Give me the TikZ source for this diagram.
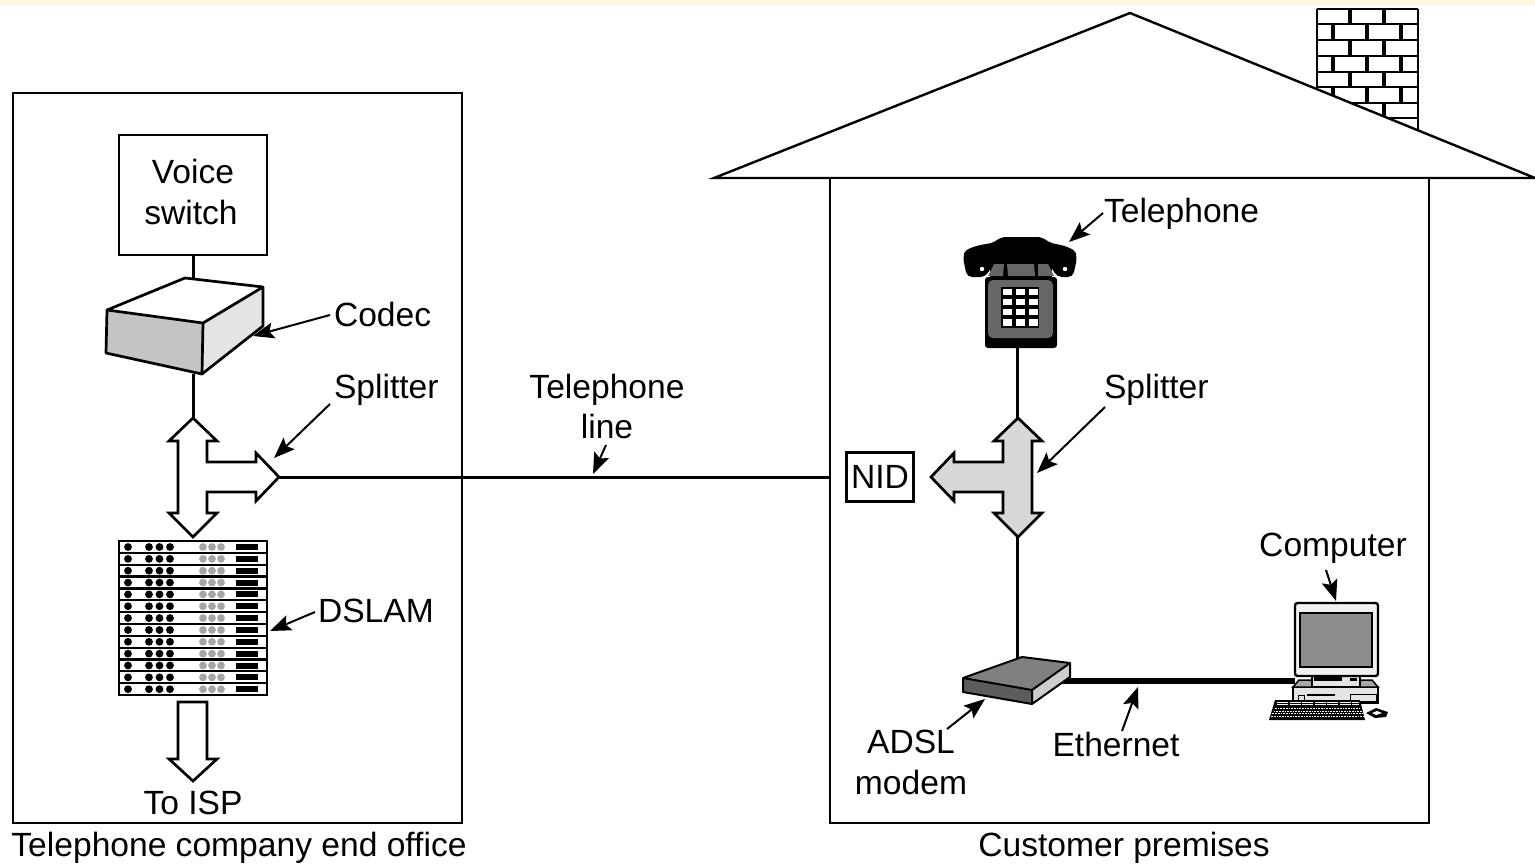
\documentclass[tikz,border=0pt]{standalone}
\usepackage{fontspec}
\setmainfont{Liberation Sans}
\usetikzlibrary{arrows.meta}
\definecolor{cream}{HTML}{FFF7E6}
\definecolor{codecfront}{HTML}{C4C4C4}
\definecolor{codecside}{HTML}{E4E4E4}
\definecolor{splitgrey}{HTML}{D8D8D8}
\definecolor{phonegrey}{HTML}{666666}
\definecolor{dotgrey}{HTML}{A6A6A6}
\tikzset{
  x=1pt,y=-1pt,
  lbl/.style={inner sep=0pt,outer sep=0pt,font=\fontsize{33.6}{40}\selectfont,text=black},
  frame/.style={draw=black,line width=2.2pt,fill=white,outer sep=0pt},
  wire/.style={draw=black,line width=3pt},
  pointer/.style={draw=black,line width=2pt,-{Stealth[length=21pt,width=16pt,inset=4pt]}},
  outlined/.style={draw=black,line width=2.7pt,line join=miter,fill=white},
  brick/.style={draw=black,line width=2.2pt},
  brickv/.style={draw=black,line width=3.4pt},
}
\begin{document}
\begin{tikzpicture}
\useasboundingbox (0,0) rectangle (1535,864);
\fill[white] (0,0) rectangle (1535,864);
\fill[cream] (0,0) rectangle (1535,5);

% Chimney
\foreach \yy in {9,24.3,40,56,71.7,87.3,103,118}{\draw[brick] (1317,\yy) -- (1418,\yy);}
\draw[brick] (1317,9) -- (1317,100) (1418,9) -- (1418,130);
\foreach \yy/\yb in {9/24.3,40/56,71.7/87.3,103/118}{
  \draw[brickv] (1350,\yy) -- (1350,\yb);
  \draw[brickv] (1384,\yy) -- (1384,\yb);
}
\foreach \yy/\yb in {24.3/40,56/71.7,87.3/103}{
  \draw[brickv] (1333,\yy) -- (1333,\yb);
  \draw[brickv] (1367,\yy) -- (1367,\yb);
  \draw[brickv] (1401,\yy) -- (1401,\yb);
}
% Roof
\draw[outlined,line width=2.4pt] (714,178) -- (1130,13) -- (1535,178) -- cycle;

% Boxes
\node[frame,minimum width=449pt,minimum height=730pt,inner sep=0pt,anchor=north west] (office) at (13,93) {};
\node[frame,minimum width=599pt,minimum height=645pt,inner sep=0pt,anchor=north west] (house) at (830,178) {};
\node[frame,minimum width=148pt,minimum height=120pt,inner sep=0pt,anchor=north west] (voice) at (119,135) {};
\node[lbl] at (193,171) {Voice};
\node[lbl] at (191,212) {switch};
\node[frame,minimum width=67pt,minimum height=49pt,inner sep=0pt,lbl,line width=2.2pt] (nid) at (880,477) {NID};

% Named anchor points for connectors
\coordinate (codectop) at (193,278);
\coordinate (codecbot) at (193,374);
\coordinate (lsplittop) at (193,418);
\coordinate (lsplitright) at (279,477);
\coordinate (rsplittop) at (1017.5,418);
\coordinate (rsplitbot) at (1017.5,537);
\coordinate (phonebot) at (1017.5,347);
\coordinate (modemtop) at (1017.5,659);
\coordinate (modemright) at (1058,681);
\coordinate (pcleft) at (1295,681);
\coordinate (houseleft) at (830,477);

% Wires
\draw[wire] (voice.south -| codectop) -- (codectop);
\draw[wire] (codecbot) -- (lsplittop);
\draw[wire] (lsplitright) -- (houseleft);
\draw[wire] (phonebot) -- (rsplittop);
\draw[wire] (rsplitbot) -- (modemtop);
\draw[draw=black,line width=5.5pt] (modemright) -- (pcleft);

% Codec
\fill[white] (185,278) -- (263,287) -- (203,323) -- (107,310) -- cycle;
\fill[codecfront] (107,310) -- (203,323) -- (202,374) -- (106,353) -- cycle;
\fill[codecside] (203,323) -- (263,287) -- (263,326) -- (202,374) -- cycle;
\draw[black,line width=2.7pt,line join=round] (185,278) -- (263,287) -- (263,326) -- (202,374) -- (106,353) -- (107,310) -- cycle
  (107,310) -- (203,323) -- (263,287) (203,323) -- (202,374);

% Left splitter
\draw[outlined] (193,418) -- (217,441) -- (207,441) -- (207,462) -- (256,462) -- (256,453) -- (279,477)
  -- (256,501) -- (256,492) -- (207,492) -- (207,513) -- (217,513) -- (193,537) -- (169,513) -- (178,513)
  -- (178,441) -- (169,441) -- cycle;

% Right splitter
\draw[outlined,fill=splitgrey] (1018,418) -- (1042,441) -- (1032,441) -- (1032,513) -- (1042,513) -- (1018,537)
  -- (994,513) -- (1003,513) -- (1003,492) -- (954,492) -- (954,501) -- (931,477) -- (954,453) -- (954,462)
  -- (1003,462) -- (1003,441) -- (994,441) -- cycle;

% To ISP arrow
\draw[outlined] (178,702) -- (207,702) -- (207,759) -- (217,759) -- (193,781) -- (169,759) -- (178,759) -- cycle;

% DSLAM
\fill[white] (119,541) rectangle (267,695);
\foreach \i in {0,...,12}{
  \pgfmathsetmacro{\yc}{547+\i*11.85}
  \fill[black] (128,\yc) circle (3.9) (149,\yc) circle (3.9) (159.5,\yc) circle (3.9) (170,\yc) circle (3.9);
  \fill[dotgrey] (203,\yc) circle (3.9) (212,\yc) circle (3.9) (221,\yc) circle (3.9);
  \fill[black] (236,\yc-3) rectangle (258,\yc+3);
}
\foreach \i in {1,...,12}{
  \pgfmathsetmacro{\yc}{541+\i*11.85}
  \draw[black,line width=2.2pt] (119,\yc) -- (267,\yc);
}
\draw[black,line width=2.4pt] (119,541) rectangle (267,695);

% Telephone
\fill[black,rounded corners=3pt] (985,277) rectangle (1057,348);
\fill[black] (990,262) rectangle (1052,280);
\fill[black,rounded corners=5pt] (967,277) -- (963,258) .. controls (965,250) and (972,246) .. (993,243)
  -- (1001,237) -- (1042,237) -- (1050,243) .. controls (1068,246) and (1075,250) .. (1077,258)
  -- (1073,277) -- (1057,277) -- (1050,265) -- (993,265) -- (985,277) -- cycle;
\fill[phonegrey] (994,264) -- (1004,264) -- (1003,276) -- (988,276) -- cycle;
\fill[phonegrey] (1007,264) -- (1034,264) -- (1035,276) -- (1008,276) -- cycle;
\fill[phonegrey] (1038,264) -- (1048,264) -- (1054,276) -- (1038,276) -- cycle;
\fill[white] (982,269) circle (2.2) (1065,269) circle (2.2);
\fill[phonegrey,rounded corners=5pt] (988,280) rectangle (1053,338);
\fill[black] (1001,287) rectangle (1039,328);
\foreach \r in {0,1,2,3}{\foreach \c in {0,1,2}{
  \fill[white] ({1003+\c*13},{288.5+\r*10.2}) rectangle ++(9,6.5);
}}

% Modem
\fill[phonegrey!90!black] (963,678) -- (1032,690) -- (1032,704) -- (963,692) -- cycle;
\fill[gray] (963,678) -- (1022,657) -- (1070,663) -- (1032,690) -- cycle;
\fill[codecside!90!black] (1032,690) -- (1070,663) -- (1070,677) -- (1032,704) -- cycle;
\draw[black,line width=2pt,line join=round] (963,678) -- (1022,657) -- (1070,663) -- (1070,677) -- (1032,704) -- (963,692) -- cycle
  (963,678) -- (1032,690) -- (1070,663) (1032,690) -- (1032,704);

% Computer
\fill[codecside,draw=black,line width=1.8pt] (1293,687) -- (1378,687) -- (1378,703) -- (1293,703) -- cycle;
\fill[gray!70,draw=black,line width=1.5pt] (1299,680) -- (1372,680) -- (1378,687) -- (1293,687) -- cycle;
\draw[black,line width=1pt] (1298,695) rectangle (1304,701) (1350,694) rectangle (1376,701);
\draw[black,line width=2pt] (1307,695) -- (1335,695);
\fill[codecside,draw=black,line width=1.6pt] (1312,676) -- (1360,676) -- (1360,687) -- (1312,687) -- cycle;
\fill[black] (1314,677) rectangle (1342,680.5);
\fill[black] (1350,678) rectangle (1357,681);
\fill[codecside!50!white,draw=black,line width=2.4pt,rounded corners=2.5pt] (1295,603) rectangle (1378,676);
\fill[dotgrey!85!black,draw=black,line width=2pt] (1300,613) rectangle (1372,667);
\fill[black] (1275,700) -- (1360,700) -- (1365,720) -- (1269,720) -- cycle;
\foreach \r in {0,1}{
  \draw[white,line width=1pt,dash pattern=on 11pt off 1.5pt] (1277,{702.5+\r*2.4}) -- (1359,{702.5+\r*2.4});
}
\foreach \r in {0,1,2,3}{
  \draw[white,line width=1pt,dash pattern=on 1.7pt off 1pt] ({1275-\r*1.3},{708.5+\r*2.6}) -- ({1361+\r*1},{708.5+\r*2.6});
}
\fill[black] (1366,713) -- (1376,708) -- (1388,712) -- (1386,717) -- (1375,718) -- cycle;
\fill[white] (1372,713) -- (1377,711) -- (1382,713) -- (1376,715) -- cycle;

% Texts
\node[lbl,anchor=west] (lcodec) at (334,314.5) {Codec};
\node[lbl,anchor=west] (lsplitter) at (334,390) {Splitter};
\node[lbl] (lline1) at (607,390) {Telephone};
\node[lbl] (lline2) at (607,426.5) {line};
\node[lbl,anchor=west] (ldslam) at (318,611) {DSLAM};
\node[lbl] (lisp) at (193,803) {To ISP};
\node[lbl] (loffice) at (239,848) {Telephone company end office};
\node[lbl,anchor=west] (lphone) at (1104,214) {Telephone};
\node[lbl,anchor=west] (rsplitter) at (1104,390) {Splitter};
\node[lbl] (lcomputer) at (1333,548) {Computer};
\node[lbl] (ladsl) at (911,742) {ADSL};
\node[lbl] (lmodem) at (911,782) {modem};
\node[lbl] (lether) at (1116,744) {Ethernet};
\node[lbl] (lcust) at (1124,848) {Customer premises};

% Pointer ends
\coordinate (pa1) at (330,315); \coordinate (pb1) at (253,336);
\coordinate (pa2) at (330,404); \coordinate (pb2) at (274,458);
\coordinate (pa3) at (606,445); \coordinate (pb3) at (593,474);
\coordinate (pa4) at (315,612); \coordinate (pb4) at (270,631);
\coordinate (pa5) at (1103,213); \coordinate (pb5) at (1069,242);
\coordinate (pa6) at (1105,407); \coordinate (pb6) at (1037,473);
\coordinate (pa7) at (1326,570); \coordinate (pb7) at (1336,601);
\coordinate (pa8) at (947,729); \coordinate (pb8) at (985,699);
\coordinate (pa9) at (1122,731); \coordinate (pb9) at (1138,687);
\foreach \n in {1,...,9}{\draw[pointer] (pa\n) -- (pb\n);}
\end{tikzpicture}
\end{document}
